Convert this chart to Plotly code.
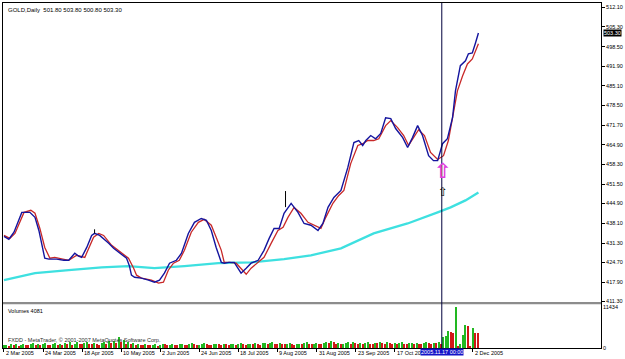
import plotly.graph_objects as go

# ---------------- data (bar index = trading day since 2 Mar 2005) ----------------
blue_idx = [0, 2.0, 4.1, 6.1, 7.3, 10.6, 12.7, 14.3, 15.5, 16.7, 18.4, 21.6, 24.5, 26.5, 29.0, 30.6, 31.8,
            33.9, 35.9, 37.1, 39.2, 41.2, 42.9, 44.9, 46.9, 49.0, 50.2, 51.4, 52.2, 53.5, 56.3, 59.2, 61.6,
            63.7, 65.7, 67.8, 70.6, 72.7, 75.5, 78.0, 80.8, 82.9, 84.9, 86.9, 89.0, 90.2, 92.2, 94.3, 97.1,
            99.2, 101.2, 104.1, 106.5, 108.6, 110.6, 112.7, 114.7, 117.6, 120.4, 122.9, 125.7, 128.6, 130.6,
            132.7, 135.1, 138.0, 140.8, 143.3, 145.3, 146.9, 148.2, 150.2, 152.2, 154.3, 156.3, 158.4, 160.4,
            163.3, 165.3, 167.3, 169.4, 171.4, 173.9, 175.9, 177.6, 179.6, 181.6, 183.7, 184.9, 186.9, 189.0,
            190.2, 191.8, 193.1, 194.3]
blue_val = [433.6, 432.6, 435.0, 439.7, 441.8, 441.8, 440.1, 435.6, 431.2, 426.1, 425.8, 425.8, 425.4, 425.4,
            427.8, 426.8, 426.4, 429.8, 433.9, 434.6, 433.9, 432.6, 431.2, 429.5, 428.1, 426.8, 426.1, 423.4,
            420.3, 419.6, 419.3, 418.6, 417.9, 418.6, 421.0, 424.4, 425.4, 427.8, 434.6, 438.4, 439.7, 439.1,
            435.6, 429.8, 424.7, 424.4, 424.7, 424.7, 421.0, 422.7, 424.4, 425.4, 428.8, 432.9, 436.3, 436.3,
            441.5, 444.9, 441.8, 438.0, 437.4, 435.6, 438.0, 443.5, 446.9, 449.3, 457.1, 465.7, 466.4, 464.7,
            466.4, 468.1, 467.0, 468.8, 474.2, 473.9, 470.5, 467.4, 464.0, 467.4, 471.5, 468.1, 461.2, 459.5,
            459.5, 465.3, 467.0, 474.2, 483.4, 492.0, 493.7, 496.1, 496.4, 499.8, 503.2]

red_idx = [0, 2.4, 4.5, 8.2, 11.0, 12.7, 14.7, 16.7, 18.8, 20.8, 26.5, 29.8, 33.1, 36.7, 38.8, 40.8, 44.1,
           48.2, 51.0, 53.1, 54.3, 56.3, 60.4, 63.3, 65.3, 67.3, 69.4, 71.8, 73.9, 76.7, 79.6, 82.0, 84.9,
           86.9, 89.0, 90.2, 92.2, 95.1, 99.2, 101.2, 104.1, 106.5, 109.4, 112.2, 114.3, 116.3, 118.8, 121.6,
           124.5, 126.9, 129.8, 131.8, 134.7, 137.1, 139.2, 142.0, 144.9, 146.9, 149.0, 151.4, 153.5, 156.3,
           158.4, 161.2, 163.7, 165.7, 167.8, 169.8, 172.2, 174.7, 177.6, 180.0, 182.0, 184.1, 185.7, 187.8,
           189.8, 191.8, 194.3]
red_val = [433.9, 432.9, 434.6, 441.8, 442.5, 441.5, 436.3, 429.8, 426.1, 426.4, 425.4, 427.1, 426.4, 433.3,
           434.6, 433.9, 430.5, 427.8, 426.1, 422.7, 420.3, 419.3, 418.6, 417.6, 417.9, 422.0, 424.4, 425.4,
           428.8, 435.0, 438.4, 439.4, 437.4, 433.3, 428.8, 424.7, 424.7, 424.4, 420.6, 422.7, 424.7, 426.4,
           431.2, 435.6, 436.7, 440.1, 443.5, 441.5, 438.4, 437.4, 436.3, 440.1, 444.9, 447.6, 449.3, 458.5,
           464.7, 465.3, 466.4, 466.4, 467.0, 471.5, 473.2, 470.8, 468.1, 464.7, 467.4, 470.1, 468.1, 462.3,
           459.9, 461.2, 466.4, 475.6, 483.4, 488.5, 492.6, 494.3, 499.5]

cyan_idx = [0, 12.7, 26.5, 40.0, 51.0, 61.6, 73.9, 87.8, 101.2, 114.7, 125.7, 138.0, 151.4, 165.3, 177.6,
            182.9, 189.0, 194.3]
cyan_val = [418.6, 421.0, 422.0, 423.0, 423.4, 422.7, 423.4, 424.4, 424.7, 425.8, 427.1, 429.5, 434.6, 438.0,
            441.8, 443.5, 445.9, 448.6]

# short black marks (two bars drawn as plain vertical strokes)
mark_idx = [115.3, 115.3, None, 37.1, 37.1]
mark_val = [449.1, 443.6, None, 436.0, 434.6]

volumes = [
    700, 900, 650, 1100, 800, 950, 600, 850, 1200, 900, 750, 1000, 1300, 800, 950, 700, 1100, 1250, 900, 800,
    1000, 1400, 900, 1150, 850, 1300, 1000, 1500, 900, 1200, 1600, 1100, 950, 1300, 1700, 1200, 1000, 1400, 1100, 900,
    1250, 1500, 1000, 1800, 1300, 2000, 1400, 2900, 1600, 2100, 1200, 1500, 1000, 1300, 900, 1100, 800, 750, 1000, 850,
    700, 900, 1000, 650, 800, 1100, 950, 700, 850, 1200, 900, 750, 1000, 1100, 850, 700, 950, 1300, 1000, 800,
    900, 1100, 1250, 1000, 850, 700, 950, 1200, 1000, 800, 1100, 950, 750, 1000, 1200, 900, 1050, 1300, 1100, 850,
    1000, 1200, 950, 1350, 1100, 900, 1250, 1400, 1000, 1300, 1500, 1150, 1000, 1400, 1200, 950, 1100, 1350, 1000, 900,
    1050, 1200, 1000, 1300, 1600, 1200, 1000, 1150, 1400, 1100, 950, 1300, 1500, 1250, 2000, 1500, 1200, 1350, 1000, 1150,
    1300, 1600, 1200, 1700, 1400, 1100, 1250, 1000, 1350, 1500, 1200, 1100, 1400, 1250, 1600, 1300, 1100, 1700, 1450, 1200,
    1350, 1100, 1300, 1500, 1200, 1000, 1250, 1400, 1100, 1300, 1200, 1000, 1350, 1500, 1250, 1100, 1400, 1300, 1600, 1200,
    2950, 3200, 4860, 4500, 4300, 11434, 400, 1050, 3600, 6300, 6100, 300, 5500, 4200, 4081]

tick_idx = [0, 16, 32, 48, 64, 80, 96, 112, 128, 144, 160, 192]
tick_labels = ["2 Mar 2005", "24 Mar 2005", "18 Apr 2005", "10 May 2005", "2 Jun 2005", "24 Jun 2005",
               "18 Jul 2005", "9 Aug 2005", "31 Aug 2005", "23 Sep 2005", "17 Oct 2005", "2 Dec 2005"]
price_ticks = [512.10, 505.30, 498.50, 491.90, 485.10, 478.50, 471.70, 464.90, 458.30, 451.50, 444.90,
               438.10, 431.30, 424.70, 417.90, 411.30]
vol_ticks = [0, 11434]

title_text = "GOLD,Daily  501.80 503.80 500.80 503.30"
last_price = 503.30
crosshair_idx = 179.3
crosshair_label = "2005.11.17 00:00"
signal_idx = 179.6
signal_big_top = 460.6
signal_small_top = 451.8

# ---------------- figure ----------------
FONT = "Liberation Sans"
FS = 5.5
vol_colors = ["#22B822"] + ["#22B822" if volumes[i] > volumes[i - 1] else "#D01818"
                            for i in range(1, len(volumes))]

fig = go.Figure()
fig.add_trace(go.Scatter(x=cyan_idx, y=cyan_val, mode="lines", line=dict(color="#3EE0E0", width=2.3),
                         xaxis="x", yaxis="y", hoverinfo="skip"))
fig.add_trace(go.Scatter(x=red_idx, y=red_val, mode="lines", line=dict(color="#C82828", width=1.3),
                         xaxis="x", yaxis="y", hoverinfo="skip"))
fig.add_trace(go.Scatter(x=blue_idx, y=blue_val, mode="lines", line=dict(color="#14149E", width=1.4),
                         xaxis="x", yaxis="y", hoverinfo="skip"))
fig.add_trace(go.Scatter(x=mark_idx, y=mark_val, mode="lines", line=dict(color="black", width=1),
                         xaxis="x", yaxis="y", hoverinfo="skip"))
fig.add_trace(go.Bar(x=list(range(len(volumes))), y=volumes, marker=dict(color=vol_colors, line=dict(width=0)),
                     width=0.5, xaxis="x2", yaxis="y2", hoverinfo="skip"))

x_range = [-0.4, 244.5]
main_dom = [0.133, 1.0]
vol_dom = [0.0, 0.127]

fig.update_layout(
    width=625, height=359,
    margin=dict(l=2, r=23, t=2, b=11),
    paper_bgcolor="white", plot_bgcolor="white",
    showlegend=False, bargap=0,
    font=dict(family=FONT, size=FS, color="black"),
    xaxis=dict(domain=[0, 1], anchor="y", range=x_range, showticklabels=False, showgrid=False,
               zeroline=False, showline=True, mirror=True, linecolor="black", linewidth=1, ticks=""),
    yaxis=dict(domain=main_dom, anchor="x", side="right", range=[411.08, 513.47],
               tickvals=price_ticks, ticktext=[f"{v:.2f}" for v in price_ticks],
               ticks="outside", ticklen=3, tickcolor="black", tickwidth=1,
               tickfont=dict(family=FONT, size=FS, color="black"),
               showgrid=False, zeroline=False, showline=True, mirror=True, linecolor="black", linewidth=1),
    xaxis2=dict(domain=[0, 1], anchor="y2", matches="x", range=x_range, tickvals=tick_idx,
                showticklabels=False, ticks="outside", ticklen=3, tickcolor="black",
                showgrid=False, zeroline=False, showline=True, mirror=True, linecolor="black", linewidth=1),
    yaxis2=dict(domain=vol_dom, anchor="x2", side="right", range=[0, 12300],
                tickvals=vol_ticks, ticktext=[str(v) for v in vol_ticks], ticks="",
                tickfont=dict(family=FONT, size=FS, color="black"),
                showgrid=False, zeroline=False, showline=True, mirror=True, linecolor="black", linewidth=1),
)

shapes = [
    dict(type="rect", xref="paper", yref="paper", x0=0, x1=1, y0=vol_dom[1], y1=main_dom[0],
         fillcolor="#8C8C8C", line=dict(width=0), layer="above"),
    dict(type="line", xref="x", yref="paper", x0=crosshair_idx, x1=crosshair_idx, y0=0, y1=1,
         line=dict(color="#00003C", width=1), layer="above"),
]
fig.update_layout(shapes=shapes)

ann = []
ann.append(dict(text=title_text, xref="paper", yref="paper", x=0, y=1, xanchor="left", yanchor="top",
                xshift=3, yshift=-2, showarrow=False, font=dict(family=FONT, size=FS + 0.5, color="black")))
ann.append(dict(text="Volumes 4081", xref="paper", yref="paper", x=0, y=vol_dom[1], xanchor="left",
                yanchor="top", xshift=3, yshift=-2, showarrow=False, font=dict(family=FONT, size=FS, color="black")))
ann.append(dict(text="FXDD - MetaTrader, © 2001-2007 MetaQuotes Software Corp.", xref="paper", yref="paper",
                x=0, y=0, xanchor="left", yanchor="bottom", xshift=3, yshift=3, showarrow=False,
                font=dict(family=FONT, size=FS, color="#303030")))
for ti, tl in zip(tick_idx, tick_labels):
    ann.append(dict(text=tl, xref="x2", yref="paper", x=ti, y=0, xanchor="left", yanchor="top",
                    xshift=0, yshift=0, showarrow=False, font=dict(family=FONT, size=FS, color="black")))
ann.append(dict(text=crosshair_label, xref="x2", yref="paper", x=crosshair_idx, y=0, xanchor="center",
                yanchor="top", yshift=0, showarrow=False, bgcolor="#1414C8", borderpad=0,
                font=dict(family=FONT, size=FS, color="white")))
ann.append(dict(text=f"{last_price:.2f}", xref="paper", yref="y", x=1, y=last_price, xanchor="left",
                yanchor="middle", xshift=2, showarrow=False, bgcolor="black", borderpad=0,
                font=dict(family=FONT, size=FS, color="white")))
ann.append(dict(text="<b>⇧</b>", xref="x", yref="y", x=signal_idx, y=signal_big_top, xanchor="center",
                yanchor="top", showarrow=False, font=dict(family="DejaVu Sans", size=21, color="#E040E0")))
ann.append(dict(text="⇧", xref="x", yref="y", x=signal_idx, y=signal_small_top, xanchor="center",
                yanchor="top", showarrow=False, font=dict(family="DejaVu Sans", size=12, color="black")))
fig.update_layout(annotations=ann)

fig.write_html("out.html", config={"displayModeBar": False})
